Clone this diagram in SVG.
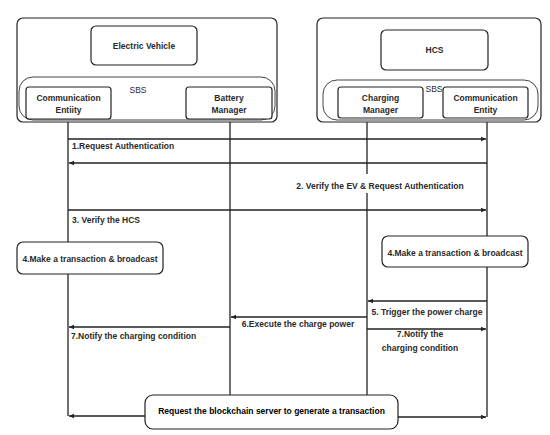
<svg xmlns="http://www.w3.org/2000/svg" width="550" height="435" viewBox="0 0 550 435">
<style>
.box{fill:#fff;stroke:#222;stroke-width:1.2}
.sbs{fill:none;stroke:#444;stroke-width:1}
.ll{stroke:#222;stroke-width:1.3;fill:none}
.msg{stroke:#222;stroke-width:1.3;fill:none}
text{font-family:"Liberation Sans",Arial,sans-serif;font-weight:bold;font-size:8.5px;fill:#2a2a2a}
.c{text-anchor:middle}
.n{font-weight:normal}
</style>
<defs>
<marker id="ah" markerWidth="6" markerHeight="6" refX="5" refY="3" orient="auto" markerUnits="userSpaceOnUse">
<path d="M0,0.8 L5,3 L0,5.2 Z" fill="#222"/>
</marker>
</defs>
<g id="lifelines">
<line class="ll" x1="68" y1="122" x2="68" y2="416"/>
<line class="ll" x1="230" y1="122" x2="230" y2="395"/>
<line class="ll" x1="367" y1="122" x2="367" y2="174"/>
<line class="ll" x1="367" y1="193" x2="367" y2="395"/>
<line class="ll" x1="487" y1="122" x2="487" y2="417"/>
</g>
<g id="ev">
<rect class="box" x="17" y="18" width="260" height="104" rx="6"/>
<rect class="box" x="91" y="26" width="106" height="39" rx="5"/>
<text class="c" x="144" y="49">Electric Vehicle</text>
<rect class="sbs" x="19" y="77" width="256" height="43" rx="14"/>
<text class="c n" x="138" y="93">SBS</text>
<rect class="box" x="26" y="87" width="85" height="32" rx="3"/>
<text class="c" x="68.5" y="101">Communication</text>
<text class="c" x="68.5" y="113">Entiity</text>
<rect class="box" x="186" y="87" width="86" height="32" rx="3"/>
<text class="c" x="229" y="101">Battery</text>
<text class="c" x="229" y="113">Manager</text>
</g>
<g id="hcs">
<rect class="box" x="317" y="18" width="224" height="104" rx="6"/>
<rect class="box" x="381" y="30" width="107" height="40" rx="5"/>
<text class="c" x="434.5" y="53">HCS</text>
<rect class="sbs" x="323" y="80" width="215" height="40" rx="14"/>
<text class="c n" x="434" y="92">SBS</text>
<rect class="box" x="338" y="87" width="85" height="31" rx="3"/>
<text class="c" x="380.5" y="101">Charging</text>
<text class="c" x="380.5" y="113">Manager</text>
<rect class="box" x="443" y="87" width="85" height="31" rx="3"/>
<text class="c" x="485.5" y="101">Communication</text>
<text class="c" x="485.5" y="113">Entity</text>
</g>
<g id="connectors">
<line class="msg" x1="68" y1="139" x2="486" y2="139" marker-end="url(#ah)"/>
<line class="msg" x1="487" y1="163" x2="69" y2="163" marker-end="url(#ah)"/>
<line class="msg" x1="68" y1="210" x2="486" y2="210" marker-end="url(#ah)"/>
<line class="msg" x1="487" y1="301" x2="368" y2="301" marker-end="url(#ah)"/>
<line class="msg" x1="367" y1="317" x2="231" y2="317" marker-end="url(#ah)"/>
<line class="msg" x1="230" y1="327" x2="69" y2="327" marker-end="url(#ah)"/>
<line class="msg" x1="367" y1="329" x2="486" y2="329" marker-end="url(#ah)"/>
<line class="msg" x1="145" y1="416" x2="69" y2="416" marker-end="url(#ah)"/>
<line class="msg" x1="398" y1="417" x2="486" y2="417" marker-end="url(#ah)"/>
</g>
<g id="labels">
<text x="72" y="149">1.Request Authentication</text>
<text class="c" x="380" y="189">2. Verify the EV &amp; Request Authentication</text>
<text x="72" y="223">3. Verify the HCS</text>
<text class="c" x="427" y="315">5. Trigger the power charge</text>
<text class="c" x="298" y="327">6.Execute the charge power</text>
<text x="71" y="339">7.Notify the charging condition</text>
<text class="c" x="420" y="337">7.Notify the</text>
<text class="c" x="420" y="351">charging condition</text>
</g>
<g id="tx-left">
<rect class="box" x="17" y="242" width="146" height="32" rx="6" stroke-width="1.5"/>
<text class="c" x="90" y="262">4.Make a transaction &amp; broadcast</text>
</g>
<g id="tx-right">
<rect class="box" x="382" y="236" width="146" height="31" rx="6" stroke-width="1.5"/>
<text class="c" x="455" y="256">4.Make a transaction &amp; broadcast</text>
</g>
<g id="request">
<rect class="box" x="145" y="395" width="253" height="34" rx="8" stroke-width="1.5"/>
<text class="c" x="271.5" y="414" style="fill:#000">Request the blockchain server to generate a transaction</text>
</g>
</svg>
